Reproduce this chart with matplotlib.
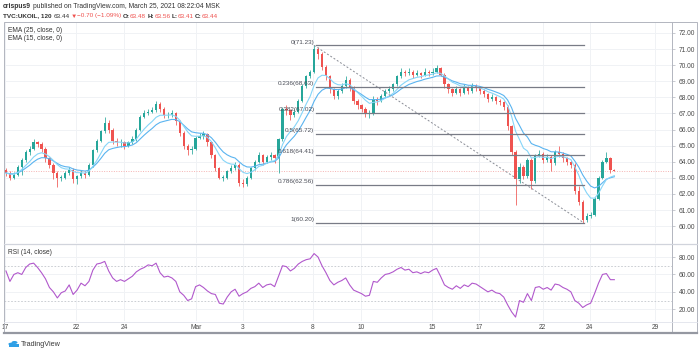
import numpy as np
import pandas as pd
import matplotlib
matplotlib.use("Agg")
import matplotlib.pyplot as plt
from matplotlib.patches import Rectangle, Circle
from matplotlib.lines import Line2D

plt.rcParams['font.family'] = ['Liberation Sans', 'DejaVu Sans']

# ---- data (UKOIL, ~6 bars per trading day) ----
first_open = 63.5
closes = [63.3, 63.0, 63.2, 63.7, 64.1, 64.6, 64.8, 65.2, 65.1, 64.8,
          64.2, 63.8, 63.3, 63.0, 63.0, 63.3, 63.5, 62.9, 63.1, 63.3,
          63.2, 63.8, 64.7, 65.3, 65.9, 66.4, 66.0, 65.3, 65.2, 65.2,
          65.0, 65.2, 65.4, 66.0, 66.8, 67.0, 67.1, 67.2, 67.6, 67.3,
          66.9, 66.9, 67.0, 66.5, 65.8, 65.0, 64.7, 64.8, 65.5, 65.6,
          65.7, 65.2, 64.4, 63.6, 63.0, 63.0, 63.4, 63.6, 63.8, 62.7,
          62.6, 63.0, 63.6, 64.0, 64.4, 64.0, 64.3, 64.4, 64.2, 65.4,
          67.3, 67.2, 66.9, 67.1, 67.8, 68.7, 69.3, 69.6, 71.0, 70.7,
          69.9, 69.3, 68.5, 68.1, 68.4, 68.7, 69.1, 68.6, 67.8, 67.5,
          67.3, 67.0, 67.0, 67.9, 67.8, 68.1, 68.4, 68.5, 68.8, 69.3,
          69.6, 69.5, 69.6, 69.4, 69.5, 69.4, 69.6, 69.5, 69.6, 69.8,
          69.4, 68.8, 68.5, 68.3, 68.5, 68.3, 68.6, 68.4, 68.7, 68.6,
          68.4, 68.2, 67.9, 68.0, 67.8, 67.7, 67.4, 66.2, 64.6, 62.9,
          63.7, 63.1, 64.1, 62.8, 64.4, 64.5, 64.1, 64.3, 63.9, 64.6,
          64.5, 64.2, 64.0, 63.8, 62.2, 61.5, 60.4, 60.6, 60.7, 61.7,
          63.0, 64.0, 64.2, 63.5, 63.44]
highs = [63.6, 63.4, 63.35, 63.8, 64.2, 64.7, 65.0, 65.4, 65.3, 65.2,
         64.9, 64.3, 63.9, 63.4, 63.2, 63.4, 63.7, 63.6, 63.2, 63.5,
         63.4, 63.9, 64.8, 65.4, 66.0, 66.8, 66.6, 66.1, 65.5, 65.4,
         65.3, 65.3, 65.6, 66.1, 66.9, 67.2, 67.3, 67.4, 67.75, 67.7,
         67.4, 67.1, 67.2, 67.1, 66.6, 65.9, 65.1, 65.0, 65.6, 65.8,
         65.9, 65.8, 65.3, 64.5, 63.7, 63.2, 63.5, 63.8, 64.0, 63.9,
         62.9, 63.1, 63.7, 64.1, 64.6, 64.5, 64.4, 64.6, 64.5, 65.5,
         67.4, 67.5, 67.3, 67.3, 67.9, 68.8, 69.4, 69.7, 71.23, 71.15,
         70.8, 70.0, 69.4, 68.6, 68.5, 68.9, 69.3, 69.2, 68.7, 67.9,
         67.6, 67.4, 67.2, 68.1, 68.0, 68.2, 68.5, 68.7, 68.9, 69.4,
         69.8, 69.7, 69.8, 69.7, 69.7, 69.6, 69.8, 69.7, 69.8, 70.0,
         69.9, 69.5, 68.9, 68.6, 68.7, 68.6, 68.8, 68.7, 68.9, 68.8,
         68.7, 68.5, 68.3, 68.2, 68.1, 67.9, 67.8, 67.5, 66.3, 64.7,
         63.9, 63.8, 64.2, 64.2, 64.5, 64.7, 64.6, 64.5, 64.4, 64.7,
         65.0, 64.6, 64.3, 64.1, 63.9, 62.5, 61.6, 60.8, 60.9, 61.8,
         63.1, 64.1, 64.6, 64.3, 63.56]
lows = [63.1, 62.85, 62.9, 63.1, 63.2, 64.0, 64.4, 64.7, 64.9, 64.6,
        64.0, 63.6, 62.9, 62.4, 62.8, 62.9, 63.2, 62.7, 62.6, 63.0,
        63.0, 63.1, 63.7, 64.6, 65.2, 65.8, 65.8, 65.1, 65.0, 64.9,
        64.8, 64.9, 65.1, 65.3, 65.9, 66.7, 66.9, 67.0, 67.1, 67.1,
        66.7, 66.7, 66.8, 66.3, 65.6, 64.8, 64.4, 64.5, 64.7, 65.4,
        65.4, 65.0, 64.2, 63.4, 62.9, 62.8, 62.9, 63.3, 63.5, 62.5,
        62.4, 62.5, 62.9, 63.5, 63.9, 63.8, 63.9, 64.1, 63.9, 63.3,
        65.3, 66.9, 66.6, 66.8, 67.0, 67.7, 68.6, 69.2, 69.5, 70.4,
        69.7, 69.1, 68.3, 67.9, 67.9, 68.3, 68.6, 68.4, 67.6, 67.3,
        67.1, 66.8, 66.7, 66.9, 67.5, 67.7, 68.0, 68.3, 68.4, 68.7,
        69.2, 69.3, 69.4, 69.2, 69.3, 69.2, 69.3, 69.3, 69.4, 69.5,
        69.3, 68.6, 68.3, 68.1, 68.2, 68.1, 68.2, 68.2, 68.3, 68.4,
        68.2, 68.0, 67.7, 67.8, 67.6, 67.5, 67.2, 66.0, 64.4, 61.3,
        62.7, 62.9, 63.0, 62.3, 62.7, 64.3, 63.9, 64.0, 63.4, 63.8,
        64.3, 64.0, 63.8, 63.6, 62.0, 61.3, 60.2, 60.25, 60.5, 60.6,
        61.6, 62.9, 63.9, 63.3, 63.41]
last_close = 63.44

# RSI(14) line as drawn in the lower pane, one value per bar
rsi_values = [64, 52, 60, 62, 60, 68, 72, 73, 68, 62,
              55, 45, 40, 33, 39, 41, 48, 37, 42, 50,
              47, 52, 65, 72, 73, 75, 64, 56, 52, 54,
              52, 55, 58, 63, 66, 68, 71, 70, 73, 62,
              57, 58, 56, 52, 40, 36, 30, 32, 46, 48,
              45, 41, 38, 37, 27, 26, 34, 40, 43, 35,
              38, 40, 44, 46, 50, 45, 48, 49, 46, 58,
              70, 69, 64, 67, 72, 75, 77, 78, 84, 80,
              70, 62, 53, 48, 51, 53, 56, 48, 42, 40,
              38, 35, 36, 52, 51, 56, 60, 61, 63, 66,
              68, 65, 66, 62, 63, 61, 63, 62, 65, 67,
              58, 48, 45, 43, 47, 44, 48, 46, 50, 49,
              46, 43, 40, 42, 39, 38, 34, 25, 17, 11,
              30, 28, 38, 30, 45, 46, 43, 45, 42, 49,
              48, 45, 43, 40, 30, 27, 22, 25, 27, 38,
              50, 60, 61, 54, 54]

price_ticks = [60, 61, 62, 63, 64, 65, 66, 67, 68, 69, 70, 71, 72]
rsi_ticks = [20, 40, 60, 80]
date_pos = [-0.2, 17.7, 29.9, 48.1, 60.0, 77.7, 89.9, 107.8, 119.7, 135.9, 147.8, 164.3]
date_labels = ['17', '22', '24', 'Mar', '3', '8', '10', '15', '17', '22', '24', '29']

fib_names = ['0', '0.236', '0.382', '0.5', '0.618', '0.786', '1']
fib_levels = [71.23, 68.63, 67.02, 65.72, 64.41, 62.56, 60.20]
fib_from, fib_to = 78.5, 146.3

RED, GREEN = '#ef5350', '#26a69a'
TXT = '#333333'

W, H = 700, 351
fx = lambda px: px / W
fy = lambda py: 1 - py / H

fig = plt.figure(figsize=(7, 3.51), dpi=100)
ax = fig.add_axes([fx(4), fy(243), fx(672) - fx(4), fy(22) - fy(243)])
ax_rsi = fig.add_axes([fx(4), fy(321), fx(672) - fx(4), fy(244) - fy(321)], sharex=ax)

x = np.arange(len(closes))
c = np.array(closes)
o = np.r_[first_open, c[:-1]]
up = c >= o
cols = np.where(up, GREEN, RED)

# grid
for a in (ax, ax_rsi):
    for p in date_pos:
        a.axvline(p, color='#f0f2f5', lw=0.7, zorder=0)
for p in price_ticks:
    ax.axhline(p, color='#f0f2f5', lw=0.7, zorder=0)
for p in rsi_ticks:
    ax_rsi.axhline(p, color='#f0f2f5', lw=0.7, zorder=0)

# candles
ax.vlines(x, lows, highs, colors=cols, lw=0.55, zorder=2)
body = np.maximum(np.abs(c - o), 0.03)
ax.bar(x, body, bottom=np.minimum(o, c), width=0.58, color=cols, lw=0, zorder=3)

# EMAs (bars are 2x coarser than the 120-min chart, so half the span)
s = pd.Series(closes)
ema25 = s.ewm(span=12.5, adjust=False).mean()
ema15 = s.ewm(span=7.5, adjust=False).mean()
ax.plot(x, ema25, color='#5ab4f0', lw=0.8, zorder=4)
ax.plot(x, ema15, color='#86d5f8', lw=0.8, zorder=4)

# last price line
ax.axhline(last_close, color='#f5b3b2', lw=0.7, ls=(0, (1, 1.5)), zorder=1)

# fibonacci retracement
for name, lev in zip(fib_names, fib_levels):
    ax.plot([fib_from, fib_to], [lev, lev], color='#787b86', lw=0.9, zorder=5)
    ax.text(fib_from - 0.4, lev + 0.05, f'{name}({lev:.2f})', ha='right', va='bottom',
            fontsize=4.6, color='#4a4d57', zorder=6)
ax.plot([fib_from - 0.5, fib_to], [fib_levels[0], fib_levels[-1]], color='#8a8d96',
        lw=0.7, ls=(0, (2, 2)), zorder=5)

ax.set_xlim(-0.5, 168.6)
ax.set_ylim(58.95, 72.68)

# RSI pane
ax_rsi.plot(x, rsi_values, color='#b158cc', lw=0.8, zorder=3)
for lv in (70, 30):
    ax_rsi.axhline(lv, color='#c3c6cc', lw=0.6, ls=(0, (2, 2)), zorder=1)
ax_rsi.set_ylim(6.5, 95)

for a in (ax, ax_rsi):
    for sp in a.spines.values():
        sp.set_visible(False)
    a.yaxis.tick_right()
    a.tick_params(axis='y', length=2, pad=3, labelsize=4.8, colors='#4a4a4a',
                  color='#b2b5be', width=0.5)
ax.set_yticks(price_ticks)
ax.set_yticklabels([f'{p:.2f}' for p in price_ticks])
ax_rsi.set_yticks(rsi_ticks)
ax_rsi.set_yticklabels([f'{p:.2f}' for p in rsi_ticks])
ax.tick_params(axis='x', bottom=False, labelbottom=False)
ax_rsi.set_xticks(date_pos)
ax_rsi.set_xticklabels(date_labels)
ax_rsi.tick_params(axis='x', length=0, pad=2.3, labelsize=4.8, colors='#4a4a4a')

# frame lines
frame = '#b2b5be'
fig.add_artist(Rectangle((fx(4), fy(333)), fx(697) - fx(4), fy(22) - fy(333),
                         transform=fig.transFigure, fill=False, ec=frame, lw=0.7))
fig.add_artist(Line2D([fx(672), fx(672)], [fy(22), fy(333)], color=frame, lw=0.7))
fig.add_artist(Line2D([fx(4), fx(697)], [fy(243.5), fy(243.5)], color='#d1d4dc', lw=0.9))
fig.add_artist(Line2D([fx(4), fx(697)], [fy(321.5), fy(321.5)], color='#e0e3eb', lw=0.6))
fig.add_artist(Line2D([fx(4), fx(697)], [fy(333), fy(333)], color='#9598a1', lw=1.6))

# legends
fig.text(fx(8), fy(30), 'EMA (25, close, 0)', fontsize=4.8, color=TXT, va='center')
fig.text(fx(8), fy(39), 'EMA (15, close, 0)', fontsize=4.8, color=TXT, va='center')
fig.text(fx(8), fy(253), 'RSI (14, close)', fontsize=4.8, color=TXT, va='center')

# header, pieces chained left to right (gap in points before each piece)
def chain(parts, px, py, size=4.9):
    t = None
    for txt, col, wt, gap in parts:
        if t is None:
            t = fig.text(fx(px), fy(py), txt, fontsize=size, color=col, fontweight=wt, va='bottom')
        else:
            t = ax.annotate(txt, xy=(1, 0), xycoords=t, xytext=(gap, 0), textcoords='offset points',
                            fontsize=size, color=col, fontweight=wt, va='bottom', ha='left',
                            annotation_clip=False)
    return t

chain([('crispus9', TXT, 'bold', 0),
       ('published on TradingView.com, March 25, 2021 08:22:04 MSK', TXT, 'normal', 1.2)], 3, 9.5)
chain([('TVC:UKOIL, 120', TXT, 'bold', 0), ('63.44', TXT, 'normal', 1.2),
       ('\u25bc', RED, 'normal', 0.8), ('\u22120.70 (\u22121.09%)', RED, 'normal', 0.6),
       ('O:', TXT, 'bold', 0.8), ('63.48', RED, 'normal', 0.2),
       ('H:', TXT, 'bold', 0.8), ('63.56', RED, 'normal', 0.2),
       ('L:', TXT, 'bold', 0.8), ('63.41', RED, 'normal', 0.2),
       ('C:', TXT, 'bold', 0.8), ('63.44', RED, 'normal', 0.2)], 3, 18.5, size=4.6)

# TradingView logo
for cx, cy, r in [(11, 344, 2.6), (14.5, 342.5, 3.0), (17, 345, 2.0)]:
    fig.add_artist(Circle((fx(cx), fy(cy)), r / W, transform=fig.transFigure,
                          color='#2e9fe6', lw=0))
fig.add_artist(Rectangle((fx(8.5), fy(347)), fx(10.5), fy(344) - fy(347),
                         transform=fig.transFigure, color='#2e9fe6', lw=0))
fig.text(fx(21), fy(344), 'TradingView', fontsize=5.2, color='#3a3a3a', va='center')

fig.savefig('out.png', dpi=100, facecolor='white')
